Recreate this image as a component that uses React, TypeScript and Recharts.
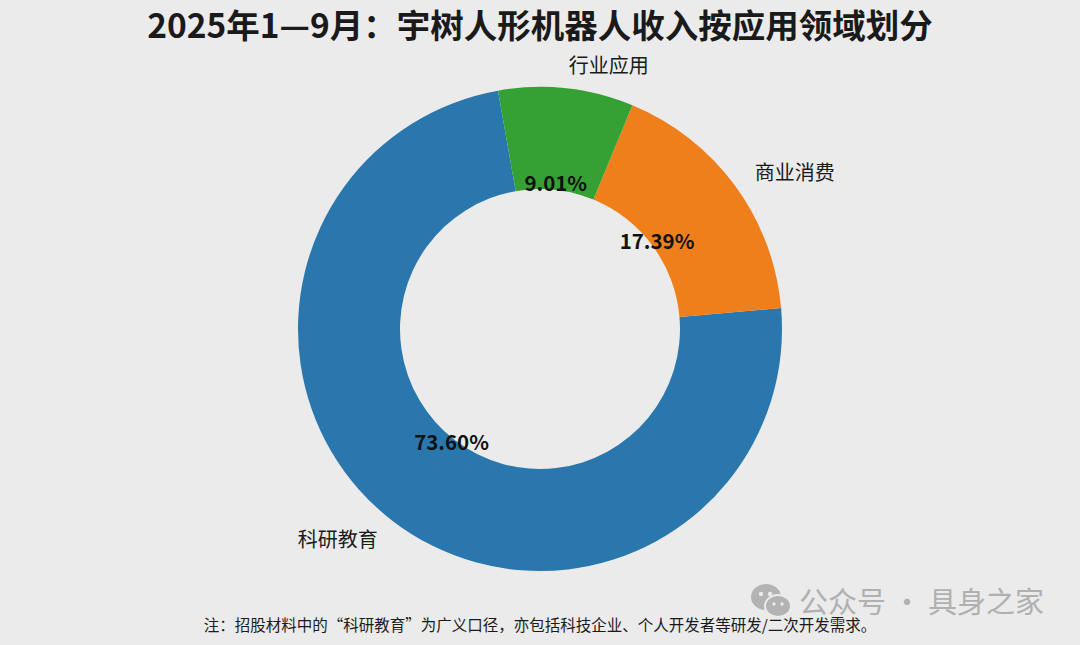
import React from 'react';
import { PieChart, Pie, Cell } from 'recharts';

const categories = ['科研教育', '商业消费', '行业应用'];
const shares = [73.6, 17.39, 9.01];
const colors = ['#2a77ae', '#ef7f1b', '#35a034'];

const data = categories.map((name, i) => ({ name, value: shares[i] }));

const RADIAN = Math.PI / 180;
const FONT = '"Noto Sans CJK SC", "Noto Sans", sans-serif';

const renderLabel = (props: any) => {
  const { cx, cy, midAngle, outerRadius, value, name } = props;
  const cos = Math.cos(-midAngle * RADIAN);
  const sin = Math.sin(-midAngle * RADIAN);
  const lr = outerRadius * 1.1;
  const pr = outerRadius * 0.6;
  const lx = cx + lr * cos;
  const ly = cy + lr * sin;
  const px = cx + pr * cos;
  const py = cy + pr * sin;
  return (
    <g>
      <text x={lx} y={ly - (sin > 0 ? 2 : 0)} textAnchor={cos >= 0 ? 'start' : 'end'} dominantBaseline="central" fontSize={20} fill="#1a1a1a" fontFamily={FONT}>
        {name}
      </text>
      <text x={px} y={py - 3} textAnchor="middle" dominantBaseline="central" fontSize={20.5} fontWeight="bold" fill="#111" fontFamily={FONT}>
        {value.toFixed(2)}%
      </text>
    </g>
  );
};

export default function App() {
  return (
    <div style={{ position: 'absolute', left: 0, top: 0, width: 1080, height: 645, background: '#ebebeb', fontFamily: FONT }}>
      <div style={{ position: 'absolute', left: 0, top: 5, width: 1080, textAlign: 'center', fontSize: 33.5, fontWeight: 'bold', color: '#1a1a1a', lineHeight: '38px', whiteSpace: 'nowrap' }}>
        2025年1—9月：宇树人形机器人收入按应用领域划分
      </div>
      <PieChart width={1080} height={645} margin={{ top: 0, right: 0, bottom: 0, left: 0 }} style={{ position: 'absolute', left: 0, top: 0 }}>
        <Pie
          data={data}
          dataKey="value"
          nameKey="name"
          cx={540}
          cy={329}
          innerRadius={140}
          outerRadius={242}
          startAngle={100}
          endAngle={460}
          stroke="none"
          label={renderLabel}
          labelLine={false}
          isAnimationActive={false}
        >
          {data.map((d, i) => (
            <Cell key={d.name} fill={colors[i]} />
          ))}
        </Pie>
      </PieChart>
      <svg width={44} height={36} style={{ position: 'absolute', left: 750, top: 583 }}>
        <ellipse cx={16} cy={14} rx={15} ry={13} fill="#b3b3b3" />
        <ellipse cx={28} cy={23} rx={13} ry={11} fill="#b3b3b3" stroke="#ebebeb" strokeWidth={2} />
        <circle cx={11} cy={11} r={2.2} fill="#ebebeb" />
        <circle cx={20} cy={11} r={2.2} fill="#ebebeb" />
        <circle cx={24} cy={21} r={1.7} fill="#ebebeb" />
        <circle cx={32} cy={21} r={1.7} fill="#ebebeb" />
      </svg>
      <div style={{ position: 'absolute', left: 799, top: 579, fontSize: 29, color: '#b0b0b0', lineHeight: '42px', whiteSpace: 'nowrap' }}>
        公众号 · 具身之家
      </div>
      <div style={{ position: 'absolute', left: 0, top: 612, width: 1080, textAlign: 'center', fontSize: 15.5, color: '#1a1a1a', lineHeight: '24px', whiteSpace: 'nowrap' }}>
        注：招股材料中的“科研教育”为广义口径，亦包括科技企业、个人开发者等研发/二次开发需求。
      </div>
    </div>
  );
}
